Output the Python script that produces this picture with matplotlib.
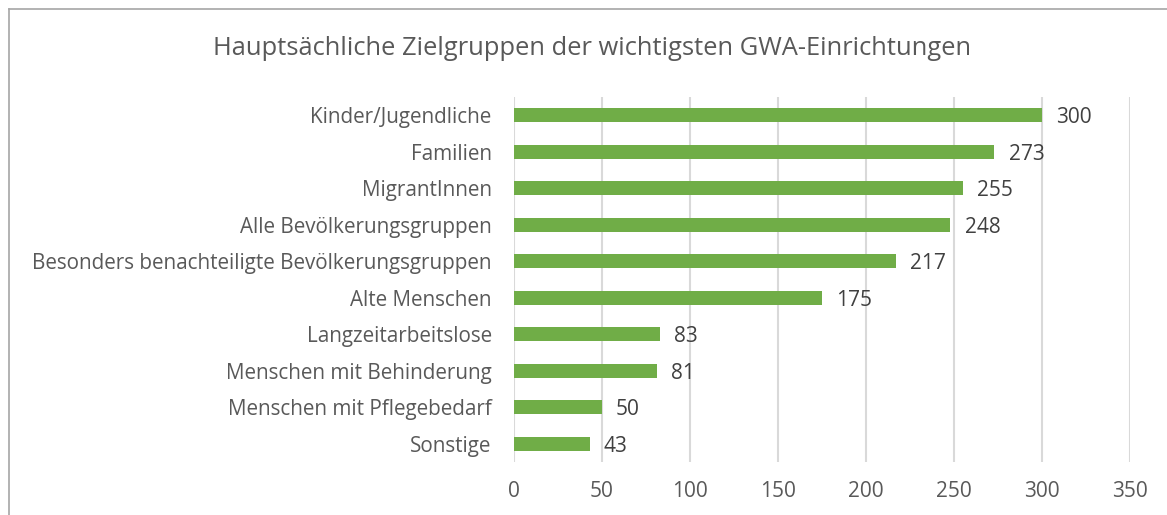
import matplotlib.pyplot as plt
from matplotlib.lines import Line2D

categories = ['Kinder/Jugendliche', 'Familien', 'MigrantInnen', 'Alle Bevölkerungsgruppen',
              'Besonders benachteiligte Bevölkerungsgruppen', 'Alte Menschen',
              'Langzeitarbeitslose', 'Menschen mit Behinderung',
              'Menschen mit Pflegebedarf', 'Sonstige']
values = [300, 273, 255, 248, 217, 175, 83, 81, 50, 43]
xticks = [0, 50, 100, 150, 200, 250, 300, 350]

plt.rcParams['font.family'] = ['Open Sans', 'DejaVu Sans']

fig = plt.figure(figsize=(11.67, 5.15), dpi=100)
ax = fig.add_axes([0.4404, 0.1029, 0.5279, 0.7088])

ypos = list(range(len(categories)))
ax.barh(ypos, values, height=0.38, color='#70AD47', zorder=3)
for y, v in zip(ypos, values):
    ax.text(v + 8, y + 0.07, str(v), va='center', ha='left', fontsize=15, color='#404040')

ax.set_xlim(0, 350)
ax.set_ylim(len(categories) - 0.5, -0.5)
ax.set_yticks(ypos)
ax.set_yticklabels(categories, fontsize=14.9, color='#595959')
ax.set_xticks(xticks)
ax.set_xticklabels([str(t) for t in xticks], fontsize=15, color='#595959')
ax.tick_params(axis='both', length=0)
ax.tick_params(axis='y', pad=16)
ax.tick_params(axis='x', pad=14)
ax.grid(axis='x', color='#d9d9d9', linewidth=1.5, zorder=0)
for s in ax.spines.values():
    s.set_visible(False)

fig.text(0.507, 0.906, 'Hauptsächliche Zielgruppen der wichtigsten GWA-Einrichtungen',
         ha='center', va='center', fontsize=18.4, color='#595959')

# chart frame (only left and top edges visible in the crop)
fig.add_artist(Line2D([8.5 / 1167, 8.5 / 1167], [0, 1 - 8.5 / 515], color='#a6a6a6', lw=1.2))
fig.add_artist(Line2D([8.5 / 1167, 1], [1 - 8.5 / 515, 1 - 8.5 / 515], color='#a6a6a6', lw=1.2))

plt.savefig('out.png', dpi=100)
